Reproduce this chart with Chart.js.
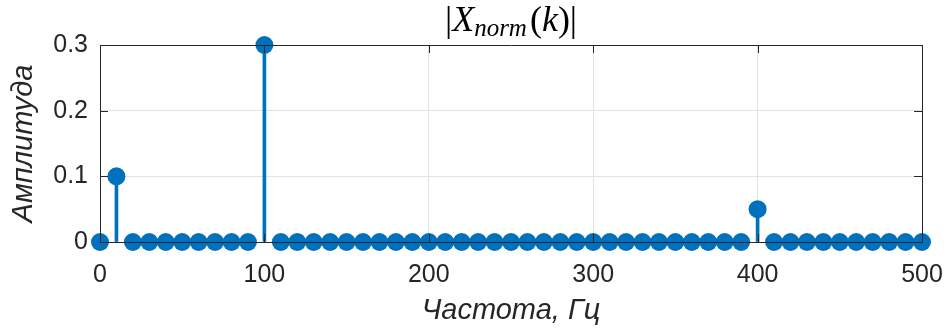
<!DOCTYPE html>
<html>
<head>
<meta charset="utf-8">
<script src="https://cdn.jsdelivr.net/npm/chart.js@4.4.1/dist/chart.umd.min.js"></script>
<style>
  html,body{margin:0;padding:0;background:#fff}
  #wrap{width:946px;height:328px}
</style>
</head>
<body>
<div id="wrap"><canvas id="spec" width="946" height="328"></canvas></div>
<script>
// spectrum bins, Hz
const freqHz = [0,10,20,30,40,50,60,70,80,90,100,110,120,130,140,150,160,170,180,190,200,
  210,220,230,240,250,260,270,280,290,300,310,320,330,340,350,360,370,380,390,400,
  410,420,430,440,450,460,470,480,490,500];
// normalised magnitude |X_norm(k)|
const amplitude = [0,0.1,0,0,0,0,0,0,0,0,0.3,0,0,0,0,0,0,0,0,0,0,
  0,0,0,0,0,0,0,0,0,0,0,0,0,0,0,0,0,0,0,0.05,
  0,0,0,0,0,0,0,0,0,0];
const xTicks = [0,100,200,300,400,500];
const yTicks = [0,0.1,0.2,0.3];
const yTickLabels = ['0','0.1','0.2','0.3'];

const BLUE = '#0072BD';
const INK = '#262626';
const points = freqHz.map((f,i)=>({x:f, y:amplitude[i]}));

// box round the axes with inward tick marks, drawn over the stems like the baseline
const axesBox = {
  id:'axesBox',
  afterDatasetsDraw(chart){
    const {ctx, chartArea:a, scales:{x,y}} = chart;
    const tl = 8;
    ctx.save();
    ctx.strokeStyle = INK;
    ctx.lineWidth = 1;
    ctx.beginPath();
    ctx.rect(Math.round(a.left)+0.5, Math.round(a.top)+0.5, Math.round(a.right-a.left), Math.round(a.bottom-a.top));
    xTicks.forEach(v=>{
      const px = Math.round(x.getPixelForValue(v))+0.5;
      ctx.moveTo(px, a.bottom); ctx.lineTo(px, a.bottom-tl);
      ctx.moveTo(px, a.top); ctx.lineTo(px, a.top+tl);
    });
    yTicks.forEach(v=>{
      const py = Math.round(y.getPixelForValue(v))+0.5;
      ctx.moveTo(a.left, py); ctx.lineTo(a.left+tl, py);
      ctx.moveTo(a.right, py); ctx.lineTo(a.right-tl, py);
    });
    ctx.stroke();
    ctx.restore();
  }
};

// LaTeX-like title: |X_norm(k)|
const titleParts = [
  {t:'|', it:false, sub:false},
  {t:'X', it:true, sub:false},
  {t:'norm', it:true, sub:true},
  {t:'(', it:false, sub:false},
  {t:'k', it:true, sub:false},
  {t:')', it:false, sub:false},
  {t:'|', it:false, sub:false}
];
const mathTitle = {
  id:'mathTitle',
  afterDraw(chart){
    const {ctx, chartArea:a} = chart;
    const fam = '"Liberation Serif","DejaVu Serif",serif';
    const fontOf = p => (p.it?'italic ':'') + (p.sub? '25px ':'36px ') + fam;
    ctx.save();
    ctx.fillStyle = '#000';
    ctx.textBaseline = 'alphabetic';
    ctx.textAlign = 'left';
    let w = 0;
    titleParts.forEach(p=>{ ctx.font = fontOf(p); w += ctx.measureText(p.t).width + (p.sub?3:0); });
    let cx = (a.left + a.right)/2 - w/2;
    const base = 31;
    titleParts.forEach(p=>{
      ctx.font = fontOf(p);
      ctx.fillText(p.t, cx, base + (p.sub?5:0));
      cx += ctx.measureText(p.t).width + (p.sub?3:0);
    });
    ctx.restore();
  }
};

const tickFont = {family:'"Liberation Sans", Arial, sans-serif', size:25};
const labelFont = {family:'"Liberation Sans", Arial, sans-serif', size:29, style:'italic'};

new Chart(document.getElementById('spec'), {
  type:'scatter',
  data:{
    datasets:[
      {
        type:'scatter',
        data:points,
        backgroundColor:BLUE,
        borderWidth:0,
        pointRadius:9,
        pointHoverRadius:9,
        clip:false,
        order:1
      },
      {
        type:'bar',
        data:points,
        backgroundColor:BLUE,
        borderWidth:0,
        barThickness:3,
        clip:false,
        order:2
      }
    ]
  },
  options:{
    responsive:false,
    animation:false,
    devicePixelRatio:1,
    layout:{padding:{left:0, right:24, top:45, bottom:0}},
    plugins:{legend:{display:false}, tooltip:{enabled:false}, title:{display:false}},
    scales:{
      x:{
        type:'linear', min:0, max:500, offset:false,
        afterBuildTicks:s=>{ s.ticks = xTicks.map(v=>({value:v})); },
        afterFit:s=>{ s.height = 86; s.paddingLeft = 0; s.paddingRight = 0; },
        grid:{color:'#e3e3e3', drawTicks:false, lineWidth:1, offset:false},
        border:{display:false},
        ticks:{font:tickFont, color:INK, padding:18, maxRotation:0},
        title:{display:true, text:'Частота, Гц', font:labelFont, color:INK, padding:{top:0,bottom:0}}
      },
      y:{
        type:'linear', min:0, max:0.3,
        afterBuildTicks:s=>{ s.ticks = yTicks.map(v=>({value:v})); },
        afterFit:s=>{ s.width = 100; s.paddingTop = 0; s.paddingBottom = 0; },
        grid:{color:'#e3e3e3', drawTicks:false, lineWidth:1},
        border:{display:false},
        ticks:{font:tickFont, color:INK, padding:12,
          callback:(v)=>{ const i = yTicks.findIndex(t=>Math.abs(t-v)<1e-9); return i>=0 ? yTickLabels[i] : ''; }},
        title:{display:true, text:'Амплитуда', font:labelFont, color:INK, padding:{top:7,bottom:0}}
      }
    }
  },
  plugins:[axesBox, mathTitle]
});
</script>
</body>
</html>
